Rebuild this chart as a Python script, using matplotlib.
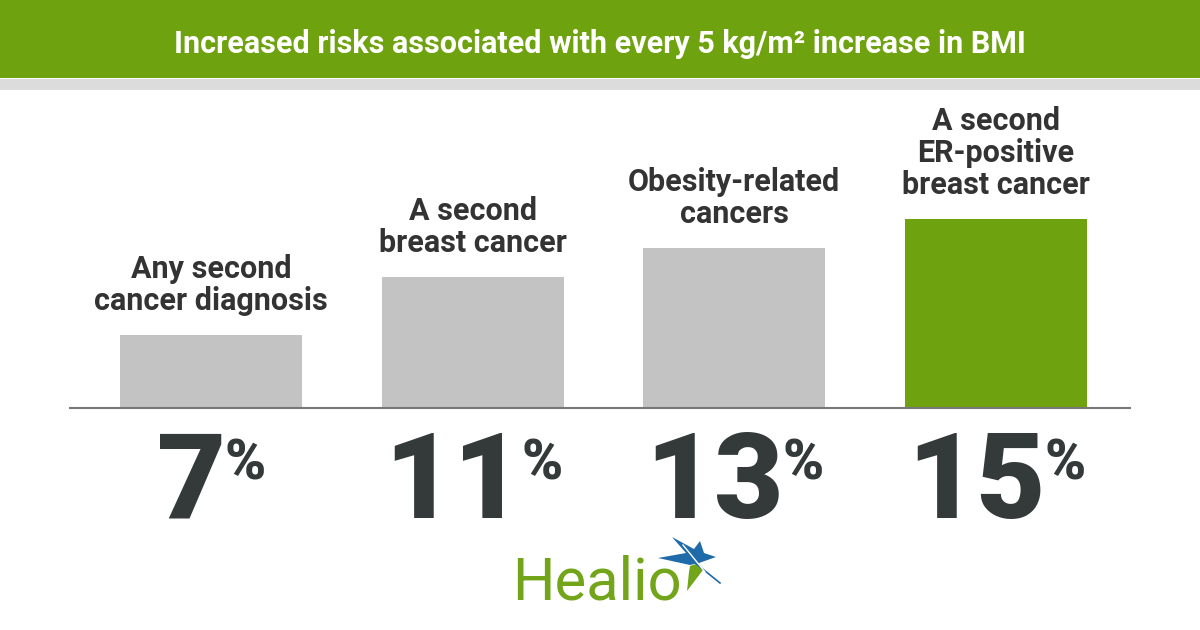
import matplotlib
matplotlib.use("Agg")
import matplotlib.pyplot as plt
import matplotlib.transforms as mtransforms
from matplotlib.patches import Rectangle, Polygon

plt.rcParams['font.family'] = ['Roboto', 'DejaVu Sans']

# data
title = "Increased risks associated with every 5 kg/m\u00b2 increase in BMI"
categories = ["Any second\ncancer diagnosis", "A second\nbreast cancer",
              "Obesity-related\ncancers", "A second\nER-positive\nbreast cancer"]
values = [7, 11, 13, 15]
value_labels = ["7", "11", "13", "15"]

green = "#6ea20f"
bar_grey = "#c3c3c3"
dark = "#343a3a"

W, H = 1200, 630
fig = plt.figure(figsize=(12, 6.3), dpi=100)
fig.patch.set_facecolor("white")

# header band
fig.patches.append(Rectangle((0, 1 - 78 / H), 1, 78 / H, transform=fig.transFigure,
                             facecolor=green, edgecolor="none", zorder=0))
fig.patches.append(Rectangle((0, 1 - 90 / H), 1, 11 / H, transform=fig.transFigure,
                             facecolor="#dcdcdc", edgecolor="none", zorder=0))
fig.text(0.5, 1 - 44 / H, title, ha="center", va="center", color="white",
         fontsize=22, fontweight="bold")

# bar area: baseline at y=408px, spans x 70..1130
ax = fig.add_axes([70 / W, (H - 408) / H, 1060 / W, 318 / H])
ax.set_facecolor("none")
x = list(range(len(values)))
colors = [bar_grey] * (len(values) - 1) + [green]
ax.bar(x, values, width=0.695, color=colors, zorder=2)
ax.set_xlim(-0.539, 3.512)
ax.set_ylim(2, 23.87)
for s in ["top", "right", "left"]:
    ax.spines[s].set_visible(False)
ax.spines["bottom"].set_color("#777777")
ax.spines["bottom"].set_linewidth(1.5)
ax.set_xticks([])
ax.set_yticks([])

for xi, v, lab in zip(x, values, categories):
    ax.annotate(lab, (xi, v), xytext=(0, 14), textcoords="offset points",
                ha="center", va="bottom", fontsize=22, fontweight="bold",
                color="#333333", linespacing=1.07, annotation_clip=False)

# big percentages under the axis
trans = mtransforms.blended_transform_factory(ax.transData, fig.transFigure)
for xi, lab in zip(x, value_labels):
    t = mtransforms.offset_copy(trans, fig=fig, x=-14, y=0, units="points")
    num = fig.text(xi, (H - 518) / H, lab, transform=t, ha="center",
                   va="baseline", fontsize=86, fontweight="black", color=dark)
    ax.annotate("%", xy=(1, 1), xycoords=num, xytext=(-1, -6),
                textcoords="offset points", ha="left", va="top",
                fontsize=40, fontweight="black", color=dark,
                annotation_clip=False)

# Healio logo
fig.text(512 / W, (H - 600) / H, "Healio", ha="left", va="baseline",
         fontsize=43, color="#72a51a", fontweight="normal")
star_blue = [(658, 558), (686, 553), (672, 537), (694, 549), (700, 541),
             (704, 553), (716, 557), (699, 563), (690, 565)]
star_green = [(690, 566), (699, 563), (703, 570), (687, 591), (689, 572)]
fig.patches.append(Polygon([(px / W, 1 - py / H) for px, py in star_blue],
                           closed=True, transform=fig.transFigure,
                           facecolor="#1f6aa8", edgecolor="none"))
fig.patches.append(Polygon([(px / W, 1 - py / H) for px, py in star_green],
                           closed=True, transform=fig.transFigure,
                           facecolor="#72a51a", edgecolor="none"))
fig.lines.append(plt.Line2D([694 / W, 720 / W], [1 - 562 / H, 1 - 583 / H],
                            transform=fig.transFigure, color="#1f6aa8", lw=1.2))
fig.lines.append(plt.Line2D([683 / W, 705 / W], [1 - 545 / H, 1 - 572 / H],
                            transform=fig.transFigure, color="white", lw=1))

fig.savefig("out.png", dpi=100, facecolor="white")
